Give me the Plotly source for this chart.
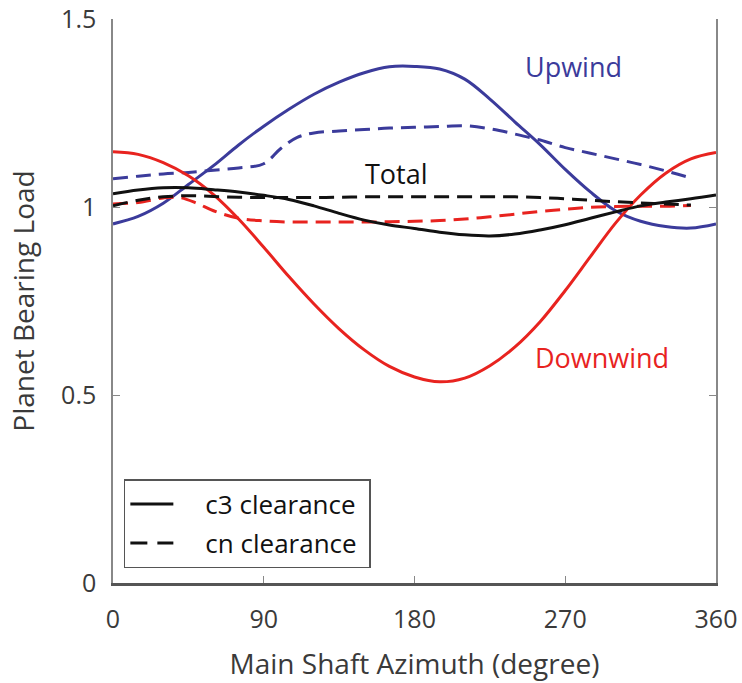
import plotly.graph_objects as go

# Main shaft azimuth (degree) sample points
az_full = [0, 15, 30, 45, 60, 75, 90, 105, 120, 135, 150, 165, 180,
           195, 210, 225, 240, 255, 270, 285, 300, 315, 330, 345, 360]
az_dash = [0, 15, 30, 45, 60, 75, 90, 105, 120, 135, 150, 165, 180,
           195, 210, 225, 240, 255, 270, 285, 300, 315, 330, 345]
az_up_dash = [0, 15, 30, 45, 60, 75, 90, 100, 110, 120, 135, 150, 165, 180,
              195, 210, 225, 240, 255, 270, 285, 300, 315, 330, 345]
az_dn_dash = [0, 15, 30, 40, 50, 60, 75, 90, 105, 120, 135, 150, 165, 180,
              195, 210, 225, 240, 255, 270, 285, 300, 315, 330, 345]

# Normalised planet bearing load
upwind_c3 = [0.955, 0.975, 1.01, 1.06, 1.11, 1.165, 1.215, 1.26, 1.30, 1.332, 1.357, 1.373, 1.374,
             1.367, 1.34, 1.287, 1.226, 1.166, 1.10, 1.04, 0.99, 0.962, 0.948, 0.944, 0.955]
upwind_cn = [1.075, 1.082, 1.088, 1.092, 1.098, 1.104, 1.115, 1.155, 1.185, 1.197, 1.202, 1.206,
             1.210, 1.212, 1.214, 1.216, 1.208, 1.194, 1.178, 1.158, 1.143, 1.128, 1.113, 1.096, 1.077]
downwind_c3 = [1.147, 1.140, 1.118, 1.083, 1.033, 0.968, 0.893, 0.815, 0.742, 0.676, 0.620, 0.576, 0.548,
               0.535, 0.545, 0.578, 0.628, 0.695, 0.778, 0.868, 0.957, 1.032, 1.09, 1.128, 1.145]
downwind_cn = [1.008, 1.012, 1.024, 1.025, 1.01, 0.99, 0.97, 0.963, 0.960, 0.960, 0.960, 0.960,
               0.961, 0.962, 0.964, 0.968, 0.974, 0.981, 0.988, 0.994, 0.999, 1.001, 1.002, 1.002, 1.004]
total_c3 = [1.035, 1.045, 1.051, 1.051, 1.046, 1.040, 1.031, 1.02, 1.003, 0.983, 0.965, 0.952, 0.943,
            0.933, 0.926, 0.923, 0.928, 0.939, 0.953, 0.970, 0.987, 1.003, 1.013, 1.022, 1.032]
total_cn = [1.003, 1.018, 1.027, 1.030, 1.028, 1.026, 1.025, 1.025, 1.025, 1.026, 1.027, 1.027, 1.027,
            1.027, 1.027, 1.027, 1.027, 1.025, 1.022, 1.018, 1.014, 1.011, 1.008, 1.005]

x_ticks = [0, 90, 180, 270, 360]
y_ticks = [0, 0.5, 1, 1.5]
y_tick_text = ["0", "0.5", "1", "1.5"]

BLUE = "#3b3b9b"
RED = "#e8231f"
BLACK = "#111111"
TEXT = "#3a3a3a"
FONT = "Open Sans"
LW = 3
DASH = "15px,8px"

fig = go.Figure()

def add(x, y, color, dash):
    fig.add_trace(go.Scatter(x=x, y=y, mode="lines", showlegend=False,
                             line=dict(color=color, width=LW, dash=dash, shape="spline", smoothing=1.0)))

add(az_full, upwind_c3, BLUE, "solid")
add(az_up_dash, upwind_cn, BLUE, DASH)
add(az_full, downwind_c3, RED, "solid")
add(az_dn_dash, downwind_cn, RED, DASH)
add(az_full, total_c3, BLACK, "solid")
add(az_dash, total_cn, BLACK, DASH)

# legend entries (line style key)
NB = "\u00a0" * 4
fig.add_trace(go.Scatter(x=[None], y=[None], mode="lines", name=NB + "c3 clearance" + "\u00a0",
                         legendgroup="c3", line=dict(color=BLACK, width=LW)))
fig.add_trace(go.Scatter(x=[None], y=[None], mode="lines", name=NB + "cn clearance" + "\u00a0",
                         legendgroup="cn", line=dict(color=BLACK, width=LW, dash="17px,10px")))

fig.add_annotation(x=275, y=1.374, text="Upwind", showarrow=False,
                   font=dict(family=FONT, size=27, color=BLUE), xanchor="center", yanchor="middle")
fig.add_annotation(x=169, y=1.09, text="Total", showarrow=False,
                   font=dict(family=FONT, size=27, color="#111111"), xanchor="center", yanchor="middle")
fig.add_annotation(x=292, y=0.60, text="Downwind", showarrow=False,
                   font=dict(family=FONT, size=27, color=RED), xanchor="center", yanchor="middle")

tick_common = dict(showgrid=False, zeroline=False, ticks="inside", ticklen=7,
                   tickcolor="#888888", tickwidth=1.2, automargin=False,
                   tickfont=dict(family=FONT, size=25, color=TEXT))

fig.update_layout(
    width=742, height=683,
    margin=dict(l=113, r=26, t=19, b=100),
    plot_bgcolor="white", paper_bgcolor="white",
    xaxis=dict(range=[0, 360], tickvals=x_ticks, ticktext=[str(v) for v in x_ticks],
               linecolor="#555555", linewidth=3, ticklabelstandoff=12,
               title=dict(text="Main Shaft Azimuth (degree)", standoff=21,
                          font=dict(family=FONT, size=28, color=TEXT)),
               **tick_common),
    xaxis2=dict(range=[0, 360], tickvals=x_ticks, overlaying="x", side="top", anchor="y",
                showticklabels=False, linecolor="#888888", linewidth=1.5,
                **tick_common),
    yaxis=dict(range=[0, 1.5], tickvals=y_ticks, ticktext=y_tick_text,
               linecolor="#888888", linewidth=1.5, mirror="ticks", ticklabelstandoff=10,
               title=dict(text="Planet Bearing Load", standoff=18,
                          font=dict(family=FONT, size=28, color=TEXT)),
               **tick_common),
    legend=dict(x=0.018, y=0.184, xanchor="left", yanchor="top",
                bordercolor="#555555", borderwidth=1.5, bgcolor="white",
                font=dict(family=FONT, size=26, color="#111111"),
                itemwidth=43, tracegroupgap=2),
)

fig.write_html("out.html")
